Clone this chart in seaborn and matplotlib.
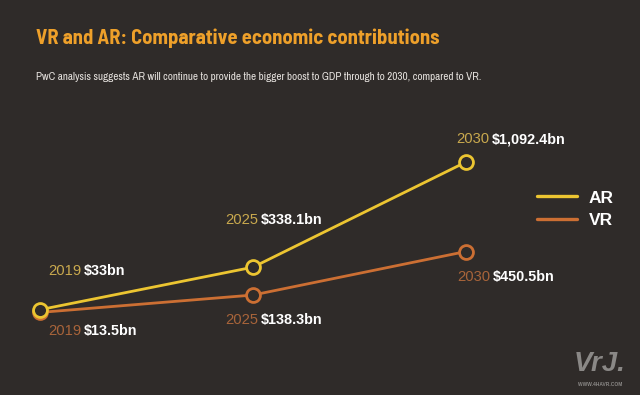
import matplotlib
matplotlib.use("Agg")
import matplotlib.pyplot as plt
import seaborn as sns
import pandas as pd
from matplotlib.lines import Line2D

# ---- data ----
years = ["2019", "2025", "2030"]
ar_values = [33.0, 338.1, 1092.4]
vr_values = [13.5, 138.3, 450.5]
ar_labels = ["$33bn", "$338.1bn", "$1,092.4bn"]
vr_labels = ["$13.5bn", "$138.3bn", "$450.5bn"]
series_names = ["VR", "AR"]

title = "VR and AR: Comparative economic contributions"
subtitle = ("PwC analysis suggests AR will continue to provide the bigger boost to GDP "
            "through to 2030, compared to VR.")

# ---- style ----
BG = "#2f2b29"
AR_C = "#ecc531"
VR_C = "#cc6f33"
AR_YEAR_C = "#c9a94e"
VR_YEAR_C = "#a8643a"
TITLE_C = "#eea02a"
NARROW = ["Archivo Narrow", "Liberation Sans", "DejaVu Sans"]
TITLE_FONT = ["Barlow Semi Condensed", "Liberation Sans", "DejaVu Sans"]

sns.set_theme(style="white")
plt.rcParams["font.family"] = ["Liberation Sans", "DejaVu Sans"]

rows = []
for i, y in enumerate(years):
    rows.append({"idx": i, "year": y, "tech": "VR", "value": vr_values[i]})
for i, y in enumerate(years):
    rows.append({"idx": i, "year": y, "tech": "AR", "value": ar_values[i]})
df = pd.DataFrame(rows)

fig = plt.figure(figsize=(6.4, 3.95), dpi=100, facecolor=BG)
ax = fig.add_axes([0, 0, 1, 1])
ax.set_facecolor(BG)

sns.lineplot(data=df, x="idx", y="value", hue="tech", hue_order=series_names,
             palette={"AR": AR_C, "VR": VR_C}, linewidth=2.0, marker="o",
             markersize=10, markeredgewidth=2.0, legend=False, ax=ax,
             estimator=None, sort=False)
for ln in ax.lines:
    ln.set_markerfacecolor(BG)
    ln.set_markeredgecolor(ln.get_color())

ax.set_xlim(-0.1878, 2.8169)
ax.set_ylim(-578.9, 2254.7)
ax.axis("off")

# value labels
ar_off = [(8, 38.7), (-28, 47.2), (-10, 23)]
vr_off = [(8, -18.6), (-28, -25), (-9, -25.5)]
for vals, labs, offs, yc in [(ar_values, ar_labels, ar_off, AR_YEAR_C),
                            (vr_values, vr_labels, vr_off, VR_YEAR_C)]:
    for i in range(3):
        dx, dy = offs[i]
        ax.annotate(years[i], xy=(i, vals[i]), xytext=(dx, dy),
                    textcoords="offset pixels", color=yc, fontsize=10.6,
                    ha="left", va="center")
        ax.annotate(labs[i], xy=(i, vals[i]), xytext=(dx + 36, dy),
                    textcoords="offset pixels", color="white", fontsize=10.4,
                    fontweight="bold", ha="left", va="center")

# legend
handles = [Line2D([0], [0], color=AR_C, lw=2.4), Line2D([0], [0], color=VR_C, lw=2.4)]
leg = ax.legend(handles, ["AR", "VR"], loc="center left",
                bbox_to_anchor=(521 / 640, 1 - 209 / 395), bbox_transform=fig.transFigure,
                frameon=False, handlelength=2.3, handletextpad=0.7, labelspacing=0.4,
                prop={"size": 12.5, "weight": "bold"}, labelcolor="white")

fig.text(36 / 640, 1 - 38 / 395, title, color=TITLE_C, fontsize=14.8,
         fontweight="bold", family=TITLE_FONT, ha="left", va="center")
fig.text(36 / 640, 1 - 77 / 395, subtitle, color="#e6e2de", fontsize=8,
         family=NARROW, ha="left", va="center")

# watermark
fig.text(600 / 640, 1 - 364 / 395, "VrJ.", color="#8a8886", fontsize=20,
         fontweight="bold", style="italic", ha="center", va="center")
fig.text(600 / 640, 1 - 384 / 395, "WWW.4HAVR.COM", color="#8a8886", fontsize=3.5,
         fontweight="bold", ha="center", va="center")

fig.savefig("out.png", dpi=100, facecolor=BG)
